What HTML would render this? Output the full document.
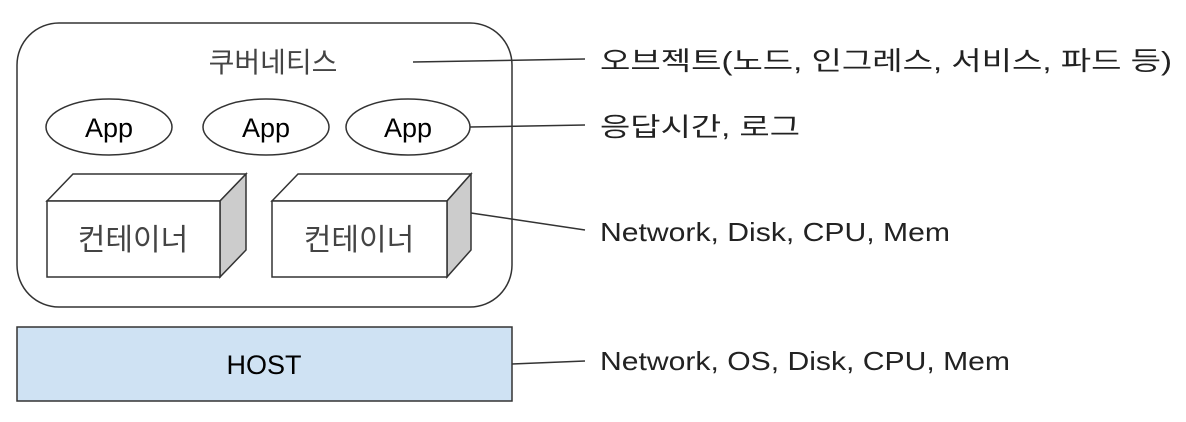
<!DOCTYPE html>
<html><head><meta charset="utf-8"><style>
html,body{margin:0;padding:0;background:#fff;width:1186px;height:422px;overflow:hidden}
text{font-family:"Liberation Sans","Noto Sans CJK KR",sans-serif}
</style></head><body>
<svg width="1186" height="422" viewBox="0 0 1186 422" xmlns="http://www.w3.org/2000/svg">
<rect x="17" y="23" width="495" height="284" rx="42" fill="#fff" stroke="#333" stroke-width="1.5"/>
<text x="273" y="72" font-size="28" fill="#444" text-anchor="middle">쿠버네티스</text>
<g fill="#fff" stroke="#333" stroke-width="1.5">
<ellipse cx="109" cy="127" rx="63" ry="28"/>
<ellipse cx="266" cy="127" rx="63" ry="28"/>
<ellipse cx="408" cy="127" rx="62" ry="28"/>
</g>
<g font-size="27" fill="#000" text-anchor="middle">
<text x="109" y="137">App</text><text x="266" y="137">App</text><text x="408" y="137">App</text>
</g>
<g stroke="#333" stroke-width="1.5">
<polygon points="47,201 73,174 246,174 220,201" fill="#fff"/>
<polygon points="220,201 246,174 246,250 220,277" fill="#ccc"/>
<rect x="47" y="201" width="173" height="76" fill="#fff"/>
<polygon points="272,201 298,174 471,174 447,201" fill="#fff"/>
<polygon points="447,201 471,174 471,250 447,277" fill="#ccc"/>
<rect x="272" y="201" width="175" height="76" fill="#fff"/>
</g>
<text x="133" y="250" font-size="30" fill="#444" text-anchor="middle">컨테이너</text>
<text x="359" y="250" font-size="30" fill="#444" text-anchor="middle">컨테이너</text>
<rect x="17" y="327" width="495" height="74" fill="#cfe2f3" stroke="#333" stroke-width="1.5"/>
<text x="264" y="374" font-size="27" fill="#000" text-anchor="middle">HOST</text>
<g stroke="#333" stroke-width="1.5" fill="none">
<line x1="413" y1="62" x2="585" y2="59"/>
<line x1="470" y1="127" x2="585" y2="125"/>
<line x1="471" y1="213" x2="585" y2="230"/>
<line x1="512" y1="364" x2="585" y2="361"/>
</g>
<g font-size="26" fill="#222">
<text x="600" y="70" textLength="572" lengthAdjust="spacingAndGlyphs">오브젝트(노드, 인그레스, 서비스, 파드 등)</text>
<text x="600" y="136" textLength="200" lengthAdjust="spacingAndGlyphs">응답시간, 로그</text>
<text x="600" y="241" textLength="350" lengthAdjust="spacingAndGlyphs">Network, Disk, CPU, Mem</text>
<text x="600" y="370" textLength="410" lengthAdjust="spacingAndGlyphs">Network, OS, Disk, CPU, Mem</text>
</g>
</svg>
</body></html>
